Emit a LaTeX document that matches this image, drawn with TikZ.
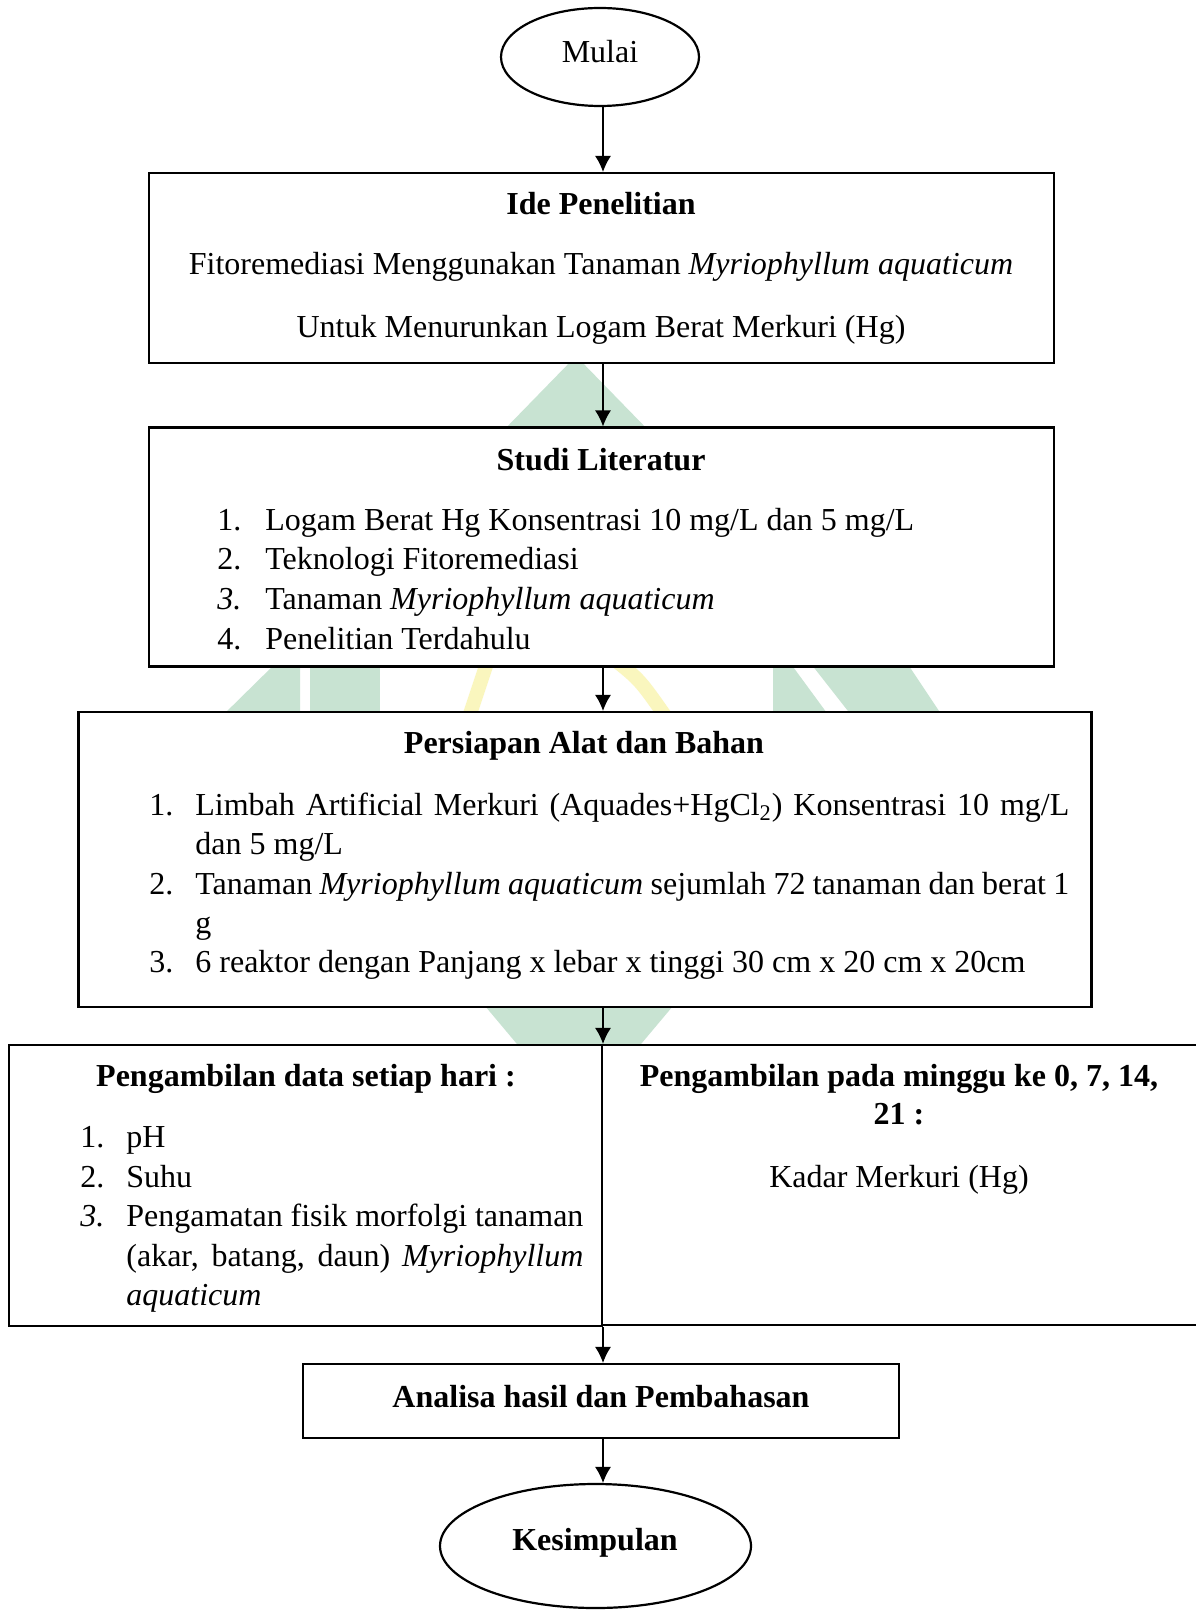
\documentclass[tikz,border=0pt]{standalone}
\usepackage{fontspec}
\setmainfont{Liberation Serif}
\usetikzlibrary{shapes.geometric,arrows.meta}
\definecolor{wmgreen}{RGB}{200,227,210}
\definecolor{wmyellow}{RGB}{250,246,190}
\begin{document}
\begin{tikzpicture}[x=0.5pt,y=-0.5pt,
  box/.style={draw, line width=1.1pt, fill=white, rectangle, inner sep=0},
  oval/.style={draw, line width=1.1pt, fill=white, ellipse, inner sep=0},
  txt/.style={inner sep=0, font=\fontsize{16}{19.7}\selectfont},
  bold/.style={inner sep=0, font=\fontsize{16}{19.7}\selectfont\bfseries},
  arr/.style={line width=0.6pt, -{Latex[length=8pt,width=8pt]}}]
\useasboundingbox (0,0) rectangle (1195,1610);
\fill[white] (0,0) rectangle (1195,1610);
% watermark pieces
\fill[wmgreen] (576,356) -- (500,434) -- (652,434) -- cycle;
\fill[wmgreen] (279,660) -- (300,660) -- (300,720) -- (218,720) -- cycle;
\fill[wmgreen] (310,660) rectangle (380,720);
\fill[wmgreen] (773,660) -- (788,660) -- (832,720) -- (773,720) -- cycle;
\fill[wmgreen] (808,660) -- (905,660) -- (945,720) -- (855,720) -- cycle;
\draw[wmyellow, line width=7pt] (468,720) -- (488,660);
\draw[wmyellow, line width=7pt] (615,660) .. controls (640,680) .. (668,720);
\fill[wmgreen] (480,1000) -- (678,1000) -- (636,1050) -- (522,1050) -- cycle;
% boxes
\node[oval, minimum width=99pt, minimum height=49pt] (mulai) at (600,57) {};
\node[txt, anchor=base] (mulaiT) at (600,63) {Mulai};
\node[box, minimum width=452.5pt, minimum height=95pt] (ide) at (601.5,268) {};
\node[bold, anchor=base] (ideT) at (601,215) {Ide Penelitian};
\node[txt, anchor=base] (ide1) at (601,275) {Fitoremediasi Menggunakan Tanaman \textit{Myriophyllum aquaticum}};
\node[txt, anchor=base] (ide2) at (601,337) {Untuk Menurunkan Logam Berat Merkuri (Hg)};
\node[box, minimum width=452.5pt, minimum height=119.5pt] (studi) at (601.5,547) {};
\node[bold, anchor=base] (studiT) at (601,470) {Studi Literatur};
\node[txt, anchor=base west] (s1n) at (217,530) {1.};
\node[txt, anchor=base west] (s1) at (265,530) {Logam Berat Hg Konsentrasi 10 mg/L dan 5 mg/L};
\node[txt, anchor=base west] (s2n) at (217,569.5) {2.};
\node[txt, anchor=base west] (s2) at (265,569.5) {Teknologi Fitoremediasi};
\node[txt, anchor=base west] (s3n) at (217,609.5) {\textit{3.}};
\node[txt, anchor=base west] (s3) at (265,609.5) {Tanaman \textit{Myriophyllum aquaticum}};
\node[txt, anchor=base west] (s4n) at (217,649) {4.};
\node[txt, anchor=base west] (s4) at (265,649) {Penelitian Terdahulu};
\node[box, minimum width=506.5pt, minimum height=147.5pt] (prep) at (585,859.5) {};
\node[bold, anchor=base] (prepT) at (584,753) {Persiapan Alat dan Bahan};
\node[txt, anchor=base west] (p1n) at (149,815) {1.};
\node[txt, anchor=base west] (p1a) at (195,815) {\makebox[437pt][s]{Limbah Artificial Merkuri (Aquades+HgCl\textsubscript{2}) Konsentrasi 10 mg/L}};
\node[txt, anchor=base west] (p1b) at (195,854) {dan 5 mg/L};
\node[txt, anchor=base west] (p2n) at (149,894) {2.};
\node[txt, anchor=base west] (p2a) at (195,894) {\makebox[437pt][s]{Tanaman \textit{Myriophyllum aquaticum} sejumlah 72 tanaman dan berat 1}};
\node[txt, anchor=base west] (p2b) at (195,933) {g};
\node[txt, anchor=base west] (p3n) at (149,972) {3.};
\node[txt, anchor=base west] (p3) at (195,972) {6 reaktor dengan Panjang x lebar x tinggi 30 cm x 20 cm x 20cm};
\node[box, minimum width=296.5pt, minimum height=140.5pt] (left) at (305.5,1185.5) {};
\node[box, minimum width=301.5pt, minimum height=140pt] (right) at (903.5,1185) {};
\node[bold, anchor=base] (leftT) at (306,1086) {Pengambilan data setiap hari :};
\node[txt, anchor=base west] (l1n) at (80,1147) {1.};
\node[txt, anchor=base west] (l1) at (126,1147) {pH};
\node[txt, anchor=base west] (l2n) at (80,1187) {2.};
\node[txt, anchor=base west] (l2) at (126,1187) {Suhu};
\node[txt, anchor=base west] (l3n) at (80,1226) {\textit{3.}};
\node[txt, anchor=base west] (l3a) at (126,1226) {\makebox[228.5pt][s]{Pengamatan fisik morfolgi tanaman}};
\node[txt, anchor=base west] (l3b) at (126,1266) {\makebox[228.5pt][s]{(akar, batang, daun) \textit{Myriophyllum}}};
\node[txt, anchor=base west] (l3c) at (126,1305.5) {\textit{aquaticum}};
\node[bold, anchor=base] (rightT1) at (899,1086) {Pengambilan pada minggu ke 0, 7, 14,};
\node[bold, anchor=base] (rightT2) at (899,1124) {21 :};
\node[txt, anchor=base] (rightK) at (899,1187) {Kadar Merkuri (Hg)};
\node[box, minimum width=298pt, minimum height=37pt] (analisa) at (601,1401) {};
\node[bold, anchor=base] (analisaT) at (601,1407) {Analisa hasil dan Pembahasan};
\node[oval, minimum width=155.5pt, minimum height=62pt] (kes) at (595.5,1546) {};
\node[bold, anchor=base] (kesT) at (595,1550) {Kesimpulan};
% connectors
\coordinate (axis) at (603,0);
\draw[arr] (mulai.south -| axis) -- (ide.north -| axis);
\draw[arr] (ide.south -| axis) -- (studi.north -| axis);
\draw[arr] (studi.south -| axis) -- (prep.north -| axis);
\draw[arr] (prep.south -| axis) -- (left.north -| axis);
\draw[arr] (left.south -| axis) -- (analisa.north -| axis);
\draw[arr] (analisa.south -| axis) -- (kes.north -| axis);
\end{tikzpicture}
\end{document}
